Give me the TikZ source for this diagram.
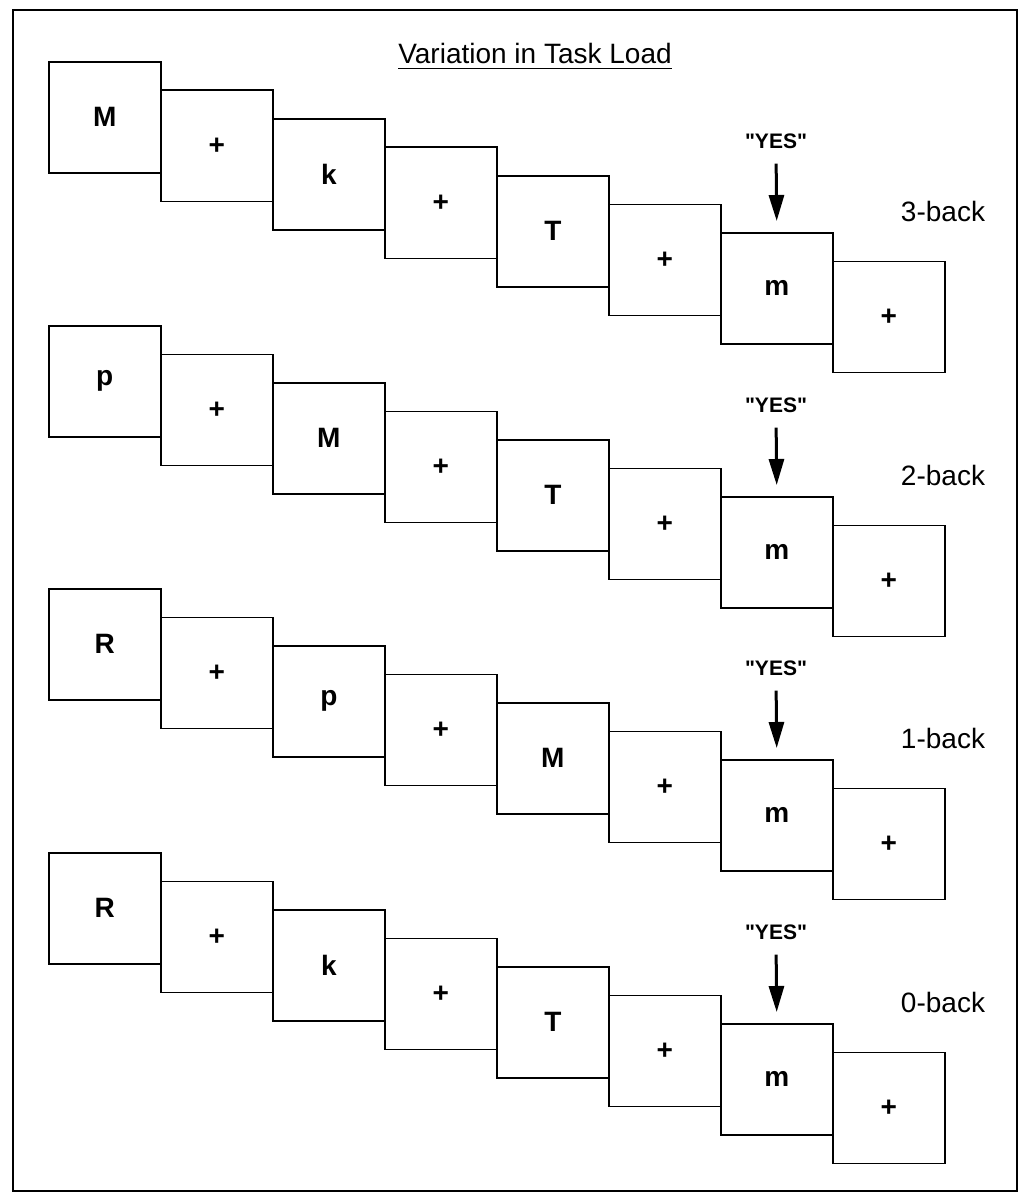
\documentclass[tikz,border=0pt]{standalone}
\usepackage{fontspec}
\setmainfont{Liberation Sans}
% a family without the TeX quote mapping, so that " stays a straight quote
\newfontfamily\straightsans{Liberation Sans}[Ligatures=ResetAll]
\usetikzlibrary{arrows.meta}
\begin{document}
\begin{tikzpicture}[x=1pt,y=-1pt,
  card/.style={draw, line width=1.6pt, fill=white, minimum width=112pt,
    minimum height=111pt, inner sep=0pt, anchor=north west,
    font=\fontsize{28}{32}\selectfont\bfseries},
  yeslabel/.style={inner sep=0pt, font=\straightsans\fontsize{21}{25}\selectfont\bfseries},
  loadlabel/.style={inner sep=0pt, font=\fontsize{28}{32}\selectfont},
  cue/.style={line width=3pt, -{Triangle[length=26pt,width=15pt]},
    shorten <=15pt, shorten >=11pt}]
\useasboundingbox (0,0) rectangle (1023,1193);
% outer frame
\draw[line width=1.6pt] (13,10) rectangle (1017,1191);
% underlined title
\node[loadlabel] (title) at (535,53) {Variation in Task Load};
\draw[line width=1.5pt] ([yshift=-5pt]title.south west) -- ([yshift=-5pt]title.south east);
% one row of eight stimulus cards per load condition
\foreach \r/\top/\lab/\sa/\sb/\sc in {1/61/3-back/M/k/T, 2/325/2-back/p/M/T,
                                      3/588/1-back/R/p/M, 4/852/0-back/R/k/T}{
  \foreach \i/\s in {0/\sa, 1/+, 2/\sb, 3/+, 4/\sc, 5/+, 6/m, 7/+}{
    \node[card] (c\r-\i) at ({48+112*\i}, {\top+28.5*\i}) {\s};
  }
  \node[yeslabel] (yes\r) at (776, \top+80) {"YES"};
  \draw[cue] (yes\r.south) -- (c\r-6.north);
  \node[loadlabel] (load\r) at (943, \top+150) {\lab};
}
\end{tikzpicture}
\end{document}
